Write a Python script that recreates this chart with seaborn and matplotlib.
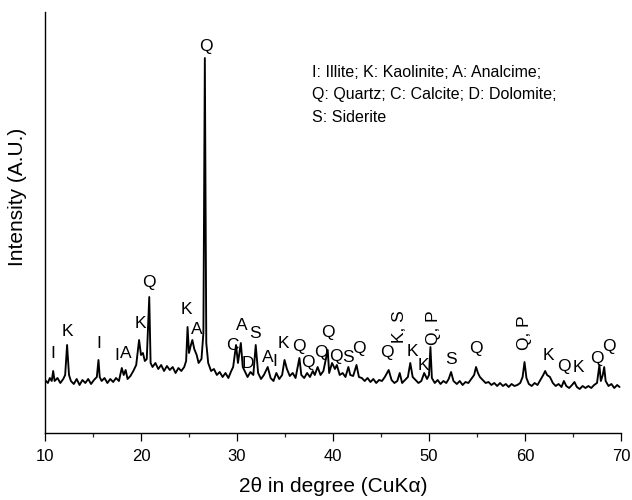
import matplotlib
matplotlib.use("Agg")
import matplotlib.pyplot as plt
import seaborn as sns
import pandas as pd
from matplotlib.ticker import MultipleLocator

# ---- data: XRD trace (2theta, intensity a.u.) ----
two_theta = [
    10.0, 10.3, 10.5, 10.7, 10.85, 11.0, 11.3, 11.6, 11.9, 12.1, 12.3, 12.5, 12.7,
    13.0, 13.3, 13.6, 13.9, 14.2, 14.5, 14.8, 15.1, 15.4, 15.57, 15.7, 15.9, 16.2,
    16.5, 16.8, 17.1, 17.4, 17.7, 18.0, 18.2, 18.4, 18.6, 18.9, 19.2, 19.5, 19.8,
    20.0, 20.2, 20.4, 20.6, 20.86, 21.0, 21.2, 21.5, 21.8, 22.1, 22.4, 22.7, 23.0,
    23.3, 23.6, 23.9, 24.2, 24.5, 24.7, 24.85, 25.0, 25.2, 25.35, 25.55, 25.8, 26.0,
    26.3, 26.5, 26.65, 26.8, 27.0, 27.3, 27.6, 27.9, 28.2, 28.5, 28.8, 29.1, 29.4,
    29.6, 29.9, 30.1, 30.4, 30.6, 30.9, 31.1, 31.4, 31.7, 31.95, 32.2, 32.5, 32.8,
    33.2, 33.5, 33.8, 34.1, 34.4, 34.7, 34.95, 35.2, 35.5, 35.8, 36.1, 36.5, 36.7,
    37.0, 37.3, 37.6, 37.9, 38.1, 38.4, 38.7, 39.0, 39.45, 39.6, 39.9, 40.2, 40.4,
    40.7, 41.0, 41.3, 41.6, 41.8, 42.1, 42.45, 42.7, 43.0, 43.3, 43.6, 43.9, 44.2,
    44.5, 44.8, 45.1, 45.4, 45.8, 46.1, 46.4, 46.7, 46.95, 47.2, 47.5, 47.8, 48.05,
    48.3, 48.6, 48.9, 49.2, 49.5, 49.8, 50.0, 50.15, 50.3, 50.6, 50.9, 51.2, 51.5,
    51.8, 52.05, 52.3, 52.55, 52.9, 53.2, 53.5, 53.8, 54.1, 54.4, 54.7, 54.9, 55.1,
    55.3, 55.6, 55.9, 56.2, 56.5, 56.8, 57.1, 57.4, 57.7, 58.0, 58.3, 58.6, 58.9,
    59.2, 59.5, 59.75, 59.95, 60.15, 60.4, 60.7, 61.0, 61.3, 61.6, 61.9, 62.1, 62.3,
    62.6, 62.9, 63.2, 63.5, 63.8, 64.05, 64.3, 64.6, 64.9, 65.15, 65.4, 65.7, 66.0,
    66.3, 66.6, 66.9, 67.2, 67.5, 67.75, 67.9, 68.1, 68.25, 68.4, 68.7, 69.0, 69.3,
    69.6, 69.85,
]
intensity = [
    53, 50, 55, 52, 62, 52, 55, 50, 54, 58, 88, 58, 52,
    49, 54, 48, 53, 50, 54, 49, 53, 56, 73, 56, 52, 55,
    50, 54, 51, 55, 52, 65, 58, 63, 54, 57, 62, 68, 93,
    78, 80, 72, 74, 136, 70, 66, 70, 64, 68, 62, 67, 63,
    66, 60, 65, 62, 66, 72, 106, 80, 88, 93, 84, 78, 70,
    74, 100, 375, 90, 70, 62, 64, 58, 61, 56, 60, 55, 62,
    66, 88, 70, 90, 66, 60, 56, 61, 58, 88, 60, 54, 58,
    66, 55, 52, 60, 54, 58, 73, 64, 57, 60, 55, 75, 58,
    55, 60, 56, 62, 58, 66, 58, 62, 83, 60, 70, 64, 68,
    58, 60, 56, 66, 58, 57, 68, 56, 55, 52, 55, 51, 54,
    50, 53, 52, 56, 63, 53, 50, 52, 60, 50, 53, 56, 70,
    56, 53, 50, 52, 60, 54, 58, 86, 55, 50, 53, 49, 52,
    50, 54, 61, 52, 49, 52, 48, 51, 50, 54, 58, 66, 60,
    56, 53, 50, 51, 48, 50, 47, 50, 47, 49, 46, 49, 47,
    48, 50, 56, 71, 55, 49, 47, 50, 48, 53, 58, 62, 58,
    56, 50, 47, 49, 46, 52, 47, 45, 48, 51, 46, 44, 47,
    45, 47, 45, 48, 50, 68, 52, 58, 66, 52, 47, 49, 45,
    48, 46,
]

# ---- peak labels (text, 2theta, intensity, rotation) ----
peak_labels = ["I", "K", "I", "I", "A", "K", "Q", "K", "A", "Q",
               "C", "A", "S", "D", "A", "I", "K", "Q", "Q", "Q",
               "Q", "Q", "S", "Q", "Q", "K, S", "K", "K", "Q, P", "S",
               "Q", "Q, P", "K", "Q", "K", "Q", "Q"]
label_x = [10.83, 12.29, 15.63, 17.5, 18.44, 19.9, 20.83, 24.69, 25.83, 26.77,
           29.48, 30.52, 31.88, 31.15, 33.23, 33.96, 34.79, 36.46, 37.4, 38.75,
           39.48, 40.3, 41.55, 42.71, 45.63, 46.88, 48.23, 49.38, 50.42, 52.29,
           54.9, 60.0, 62.4, 64.06, 65.52, 67.45, 68.7]
label_y = [80, 102, 90, 78, 80, 110, 151, 123, 104, 386,
           88, 108, 100, 70, 75, 71, 90, 87, 70, 80,
           100, 76, 76, 84, 80, 106, 81, 68, 105, 73,
           84, 100, 77, 66, 66, 75, 86]
label_rot = [0] * 25 + [90, 0, 0, 90, 0, 0, 90, 0, 0, 0, 0, 0]

legend_text = ("I: Illite; K: Kaolinite; A: Analcime;\n"
               "Q: Quartz; C: Calcite; D: Dolomite;\n"
               "S: Siderite")

x_ticks = [10, 20, 30, 40, 50, 60, 70]

df = pd.DataFrame({"two_theta": two_theta, "intensity": intensity})

sns.set_theme(style="ticks")
plt.rcParams["font.family"] = ["Liberation Sans", "DejaVu Sans"]

fig = plt.figure(figsize=(6.32, 5.0), dpi=100)
ax = fig.add_axes([45 / 632, 67 / 500, 576 / 632, 421 / 500])

sns.lineplot(data=df, x="two_theta", y="intensity", estimator=None,
             color="black", linewidth=1.35, ax=ax)

for t, x, y, r in zip(peak_labels, label_x, label_y, label_rot):
    ax.text(x, y, t, ha="center", va="center", rotation=r, fontsize=12.5,
            color="black")

ax.text(37.81, 368, legend_text, ha="left", va="top", fontsize=11.5,
        linespacing=1.62, color="black")

ax.set_xlim(10, 70)
ax.set_ylim(0, 421)
ax.set_xticks(x_ticks)
ax.xaxis.set_minor_locator(MultipleLocator(5))
ax.set_yticks([])
ax.tick_params(axis="x", which="major", direction="out", length=5.8, width=0.9,
               labelsize=12, pad=6, colors="black")
ax.tick_params(axis="x", which="minor", direction="out", length=3.2, width=0.9)
for s in ["top", "right"]:
    ax.spines[s].set_visible(False)
for s in ["left", "bottom"]:
    ax.spines[s].set_linewidth(1.0)
    ax.spines[s].set_color("black")

ax.set_xlabel("2θ in degree (CuKα)", fontsize=15, color="black", labelpad=9)
ax.set_ylabel("Intensity (A.U.)", fontsize=15, color="black")
ax.yaxis.set_label_coords(-0.031, 0.56)

fig.savefig("out.png", dpi=100)
